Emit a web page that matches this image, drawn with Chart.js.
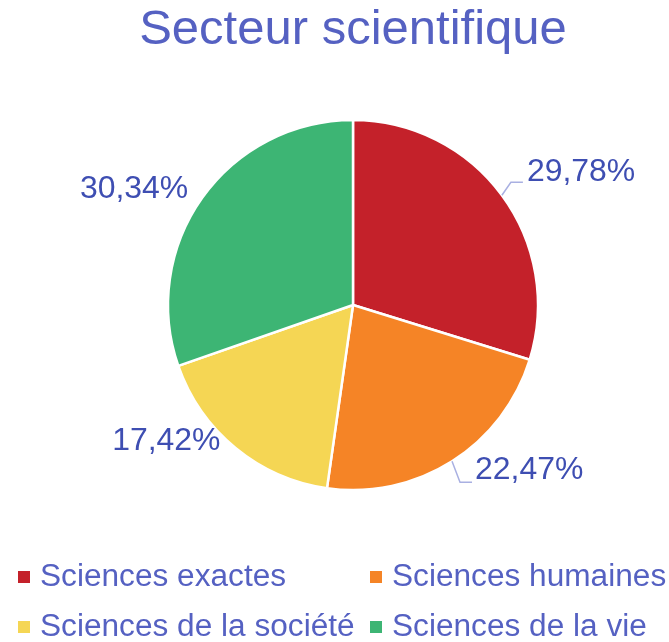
<!DOCTYPE html>
<html><head><meta charset="utf-8">
<script src="https://cdn.jsdelivr.net/npm/chart.js@4/dist/chart.umd.min.js"></script>
<style>html,body{margin:0;padding:0;background:#fff}#wrap{width:669px;height:642px;position:relative}</style>
</head><body><div id="wrap"><canvas id="c" width="669" height="642"></canvas></div>
<script>
const categories = ["Sciences exactes", "Sciences humaines", "Sciences de la société", "Sciences de la vie"];
const values = [29.78, 22.47, 17.42, 30.34];
const valueLabels = ["29,78%", "22,47%", "17,42%", "30,34%"];
const colors = ["#C4212A", "#F58426", "#F5D654", "#3DB574"];
const titleText = "Secteur scientifique";

// label placement relative to slice edge point at mid-angle
const labelPlacement = [
  {tx: 25, ty: -23, align: 'left', leader: [[9, -13], [21, -13]]},
  {tx: 23, ty: 9, align: 'left', leader: [[8, 21], [20, 21]]},
  {tx: -15, ty: -6, align: 'right', leader: null},
  {tx: -14, ty: -8, align: 'right', leader: null}
];

const FONT = '"Liberation Sans", Arial, sans-serif';

const titleDraw = {
  id: 'titleDraw',
  afterDraw(chart) {
    const ctx = chart.ctx;
    const area = chart.chartArea;
    const cx = (area.left + area.right) / 2;
    ctx.save();
    ctx.fillStyle = '#5561C2';
    ctx.font = '49px ' + FONT;
    ctx.textAlign = 'center';
    ctx.textBaseline = 'alphabetic';
    ctx.fillText(titleText, cx, 44);
    ctx.restore();
  }
};

const outLabels = {
  id: 'outLabels',
  afterDatasetsDraw(chart) {
    const ctx = chart.ctx;
    const meta = chart.getDatasetMeta(0);
    meta.data.forEach((arc, i) => {
      const p = arc.getProps(['x', 'y', 'startAngle', 'endAngle', 'outerRadius'], true);
      const mid = (p.startAngle + p.endAngle) / 2;
      const ex = p.x + Math.cos(mid) * p.outerRadius;
      const ey = p.y + Math.sin(mid) * p.outerRadius;
      const pl = labelPlacement[i];
      ctx.save();
      if (pl.leader) {
        ctx.strokeStyle = '#A9B0E2';
        ctx.lineWidth = 1.5;
        ctx.beginPath();
        ctx.moveTo(ex, ey);
        pl.leader.forEach(pt => ctx.lineTo(ex + pt[0], ey + pt[1]));
        ctx.stroke();
      }
      ctx.fillStyle = '#3E4EB2';
      ctx.font = '31px ' + FONT;
      ctx.textAlign = pl.align;
      ctx.textBaseline = 'middle';
      const tx = ex + pl.tx, ty = ey + pl.ty;
      ctx.translate(tx, ty);
      ctx.scale(1.03, 1);
      ctx.fillText(valueLabels[i], 0, 0);
      ctx.restore();
    });
  }
};

const gridLegend = {
  id: 'gridLegend',
  afterDraw(chart) {
    const ctx = chart.ctx;
    const cols = [18, 370];
    const rows = [577, 627];
    ctx.save();
    ctx.font = '31px ' + FONT;
    ctx.textBaseline = 'middle';
    ctx.textAlign = 'left';
    chart.data.labels.forEach((lab, i) => {
      const x = cols[i % 2], y = rows[Math.floor(i / 2)];
      ctx.fillStyle = chart.data.datasets[0].backgroundColor[i];
      ctx.fillRect(x, y - 6, 12, 12);
      ctx.fillStyle = '#5561C2';
      ctx.save();
      ctx.translate(x + 22, y);
      ctx.scale(1.02, 1);
      ctx.fillText(lab, 0, 0);
      ctx.restore();
    });
    ctx.restore();
  }
};

new Chart(document.getElementById('c'), {
  type: 'pie',
  data: {
    labels: categories,
    datasets: [{
      data: values,
      backgroundColor: colors,
      borderColor: '#ffffff',
      borderWidth: 2.5
    }]
  },
  options: {
    responsive: false,
    animation: false,
    radius: 185,
    layout: {padding: {left: 168, right: 131, top: 120, bottom: 152}},
    plugins: {
      legend: {display: false},
      tooltip: {enabled: false},
      title: {display: false}
    }
  },
  plugins: [outLabels, gridLegend, titleDraw]
});
</script></body></html>
